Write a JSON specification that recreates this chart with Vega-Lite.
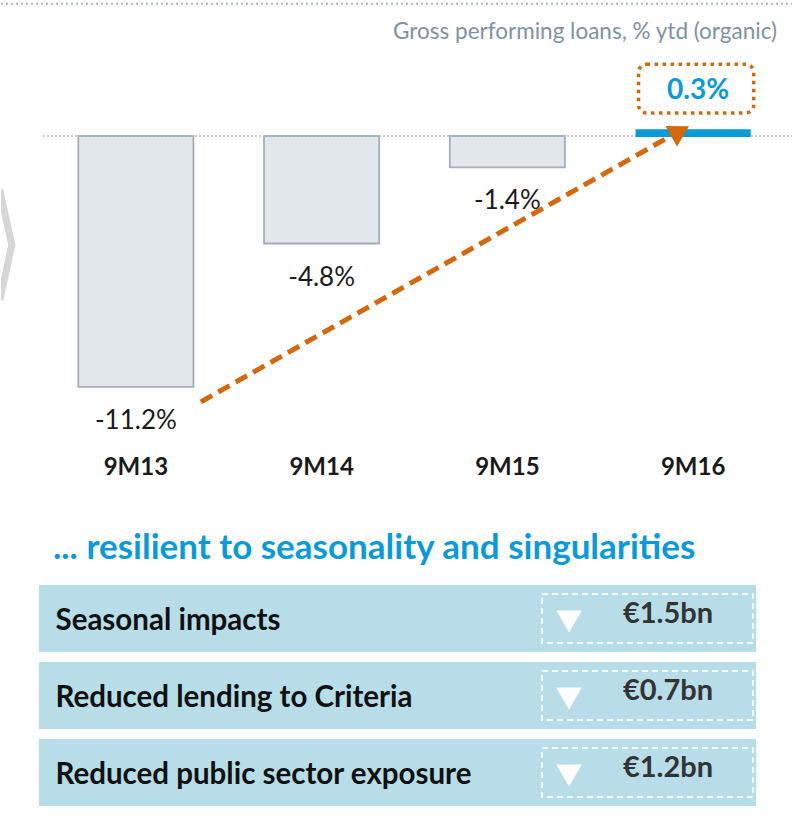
{
  "$schema": "https://vega.github.io/schema/vega-lite/v6.json",
  "padding": 0,
  "spacing": 52,
  "center": true,
  "background": "white",
  "config": {"view": {"stroke": null}, "font": "Lato"},
  "vconcat": [
    {
      "width": 792,
      "height": 452,
      "title": {"text": "Gross performing loans, % ytd (organic)", "anchor": "end", "orient": "top", "offset": -61, "baseline": "alphabetic", "dx": -17, "fontSize": 22.5, "fontWeight": "normal", "font": "Lato", "color": "#7d93a4"},
      "data": {"values": [
        {"period": "9M13", "growth": -11.2, "label": "-11.2%"},
        {"period": "9M14", "growth": -4.8, "label": "-4.8%"},
        {"period": "9M15", "growth": -1.4, "label": "-1.4%"},
        {"period": "9M16", "growth": 0.3, "label": "0.3%"}
      ]},
      "layer": [
        {
          "transform": [{"filter": "datum.growth < 0"}],
          "mark": {"type": "bar", "fill": "#e1e7ea", "stroke": "#a0b1ba", "strokeWidth": 1.8},
          "encoding": {
            "x": {"field": "period", "type": "nominal", "sort": null,
                  "scale": {"domain": ["9M13", "9M14", "9M15", "9M16"], "range": [42, 785], "paddingInner": 0.38, "paddingOuter": 0.19},
                  "axis": {"title": null, "domain": false, "ticks": false, "labelAngle": 0, "labelFontSize": 24, "labelFontWeight": "bold", "labelColor": "#1a1a1a", "labelPadding": 3, "labelFont": "Lato"}},
            "y": {"field": "growth", "type": "quantitative",
                  "scale": {"domain": [-14.107, 6.0714], "nice": false, "zero": false},
                  "axis": null},
            "y2": {"datum": 0}
          }
        },
        {
          "transform": [{"filter": "datum.period == '9M13'"}],
          "mark": {"type": "point", "shape": "M-0.22,-1L0,0L-0.22,1", "filled": false, "stroke": "#b5b5b5", "strokeWidth": 7, "opacity": 0.55, "size": 12100, "xOffset": -124, "clip": true},
          "encoding": {
            "x": {"field": "period", "type": "nominal", "sort": null},
            "y": {"datum": -4.87, "type": "quantitative"}
          }
        },
        {
          "transform": [{"filter": "datum.period == '9M16'"}],
          "mark": {"type": "rule", "color": "#a9b6bf", "strokeWidth": 2, "strokeDash": [2, 3]},
          "encoding": {"y": {"datum": 5.9, "type": "quantitative"}}
        },
        {
          "transform": [{"filter": "datum.period == '9M16'"}],
          "mark": {"type": "rule", "color": "#b3bdc3", "strokeWidth": 1.5, "strokeDash": [2, 2]},
          "encoding": {"y": {"datum": 0, "type": "quantitative"}, "x": {"value": 42}, "x2": {"value": 792}}
        },
        {
          "transform": [{"filter": "datum.growth > 0"}],
          "mark": {"type": "bar", "fill": "#0a9ad7", "strokeWidth": 0},
          "encoding": {
            "x": {"field": "period", "type": "nominal", "sort": null},
            "y": {"field": "growth", "type": "quantitative"},
            "y2": {"datum": -0.05}
          }
        },
        {
          "transform": [{"filter": "datum.growth < 0"}],
          "mark": {"type": "text", "fontSize": 26, "font": "Lato", "color": "#1a1a1a", "baseline": "middle", "dy": 34},
          "encoding": {
            "x": {"field": "period", "type": "nominal", "sort": null},
            "y": {"field": "growth", "type": "quantitative"},
            "text": {"field": "label"}
          }
        },
        {
          "transform": [{"filter": "datum.growth > 0"}],
          "mark": {"type": "rect", "fill": "white", "stroke": "#d2690e", "strokeWidth": 3.5, "strokeDash": [3.5, 4.5], "cornerRadius": 8, "xOffset": 3, "x2Offset": 9},
          "encoding": {
            "x": {"field": "period", "type": "nominal", "sort": null},
            "y": {"datum": 3.2, "type": "quantitative"},
            "y2": {"datum": 1.03}
          }
        },
        {
          "transform": [{"filter": "datum.growth > 0"}],
          "mark": {"type": "text", "fontSize": 28, "fontWeight": "bold", "font": "Lato", "color": "#0a9ad7", "baseline": "middle", "dy": -38, "dx": 5},
          "encoding": {
            "x": {"field": "period", "type": "nominal", "sort": null},
            "y": {"field": "growth", "type": "quantitative"},
            "text": {"field": "label"}
          }
        },
        {
          "transform": [{"filter": "datum.period == '9M13'"}],
          "mark": {"type": "rule", "color": "#d2690e", "strokeWidth": 5, "strokeDash": [13, 7], "xOffset": 65, "yOffset": 15, "y2Offset": 2},
          "encoding": {
            "x": {"field": "period", "type": "nominal", "sort": null},
            "x2": {"value": 678},
            "y": {"field": "growth", "type": "quantitative"},
            "y2": {"datum": 0.3}
          }
        },
        {
          "transform": [{"filter": "datum.growth > 0"}],
          "mark": {"type": "point", "shape": "triangle-up", "filled": true, "color": "#d2690e", "opacity": 1, "size": 560, "angle": 60.5, "xOffset": -13, "yOffset": 2},
          "encoding": {
            "x": {"field": "period", "type": "nominal", "sort": null},
            "y": {"field": "growth", "type": "quantitative"}
          }
        }
      ]
    },
    {
      "width": 717,
      "height": 231,
      "title": {"text": "... resilient to seasonality and singularities", "anchor": "start", "fontSize": 35, "font": "Lato", "fontWeight": "bold", "color": "#0a9ad7", "dx": 14, "offset": 14},
      "data": {"values": [
        {"item": "Seasonal impacts", "amount": "€1.5bn"},
        {"item": "Reduced lending to Criteria", "amount": "€0.7bn"},
        {"item": "Reduced public sector exposure", "amount": "€1.2bn"}
      ]},
      "encoding": {
        "y": {"field": "item", "type": "nominal", "sort": null,
              "scale": {"paddingInner": 0.13, "paddingOuter": 0.065},
              "axis": {"title": null, "domain": false, "ticks": false, "labelAlign": "left", "labelBaseline": "middle", "labelPadding": -16, "labelFontSize": 29.5, "labelFontWeight": "bold", "labelFont": "Lato", "labelColor": "#111111", "labelLimit": 0, "zindex": 1, "labelOffset": 2}}
      },
      "layer": [
        {
          "mark": {"type": "rect", "fill": "#b7dde8"},
          "encoding": {"x": {"value": 0}, "x2": {"value": 717}}
        },
        {
          "mark": {"type": "bar", "size": 49, "fillOpacity": 0, "stroke": "#f4fafc", "strokeWidth": 2, "strokeDash": [6, 4]},
          "encoding": {"x": {"value": 503}, "x2": {"value": 714}}
        },
        {
          "mark": {"type": "point", "shape": "triangle-down", "filled": true, "color": "white", "opacity": 1, "size": 650, "yOffset": 3},
          "encoding": {"x": {"value": 530}}
        },
        {
          "mark": {"type": "text", "font": "Lato", "fontWeight": "bold", "fontSize": 29, "color": "#333333", "baseline": "middle", "dy": -5},
          "encoding": {"x": {"value": 629}, "text": {"field": "amount"}}
        }
      ]
    }
  ]
}
